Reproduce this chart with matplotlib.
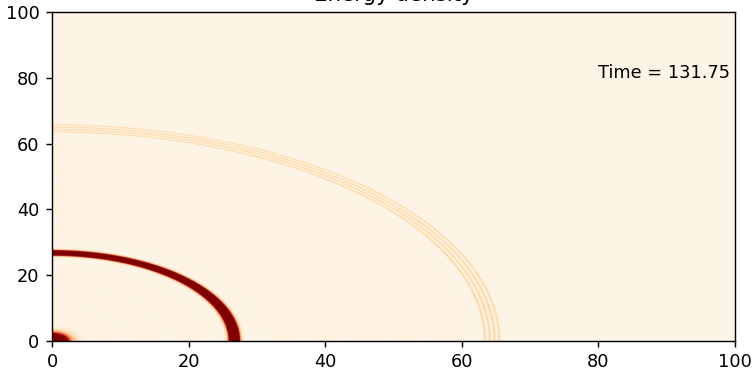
import numpy as np
import matplotlib
matplotlib.use("Agg")
import matplotlib.pyplot as plt

# ring structure (radius, width, peak energy density)
ring_radius = [0.0, 26.7, 63.4, 64.1, 64.8, 65.5, 8.0, 14.0, 20.0, 34.0, 40.0, 46.0, 52.0, 58.0]
ring_width = [1.5, 0.45, 0.12, 0.12, 0.12, 0.12, 1.5, 1.5, 1.5, 1.5, 1.5, 1.5, 1.5, 1.5]
ring_amp = [3.0, 4.0, 0.24, 0.24, 0.24, 0.22, 0.015, 0.015, 0.015, 0.02, 0.02, 0.02, 0.02, 0.02]
background = 0.02
time_label = "Time = 131.75"
ticks = [0, 20, 40, 60, 80, 100]

# energy density on the grid
n = 1000
coords = (np.arange(n) + 0.5) * 100.0 / n
X, Y = np.meshgrid(coords, coords)
R = np.hypot(X, Y)
density = np.full_like(R, background)
for r0, w, a in zip(ring_radius, ring_width, ring_amp):
    density += a * np.exp(-0.5 * ((R - r0) / w) ** 2)

# smaller figure at higher dpi, so text comes out a bit larger
fig = plt.figure(figsize=(7.56 / 1.28, 3.71 / 1.28), dpi=128)
ax = fig.add_axes([0.0688, 0.0809, 0.9034, 0.8868])
ax.imshow(density, cmap="OrRd", vmin=0, vmax=1, origin="lower",
          extent=[0, 100, 0, 100], aspect="auto", interpolation="bilinear")
ax.set_title("Energy density")
ax.text(80, 80, time_label)
ax.set_xticks(ticks)
ax.set_yticks(ticks)

fig.savefig("out.png", dpi=128)
